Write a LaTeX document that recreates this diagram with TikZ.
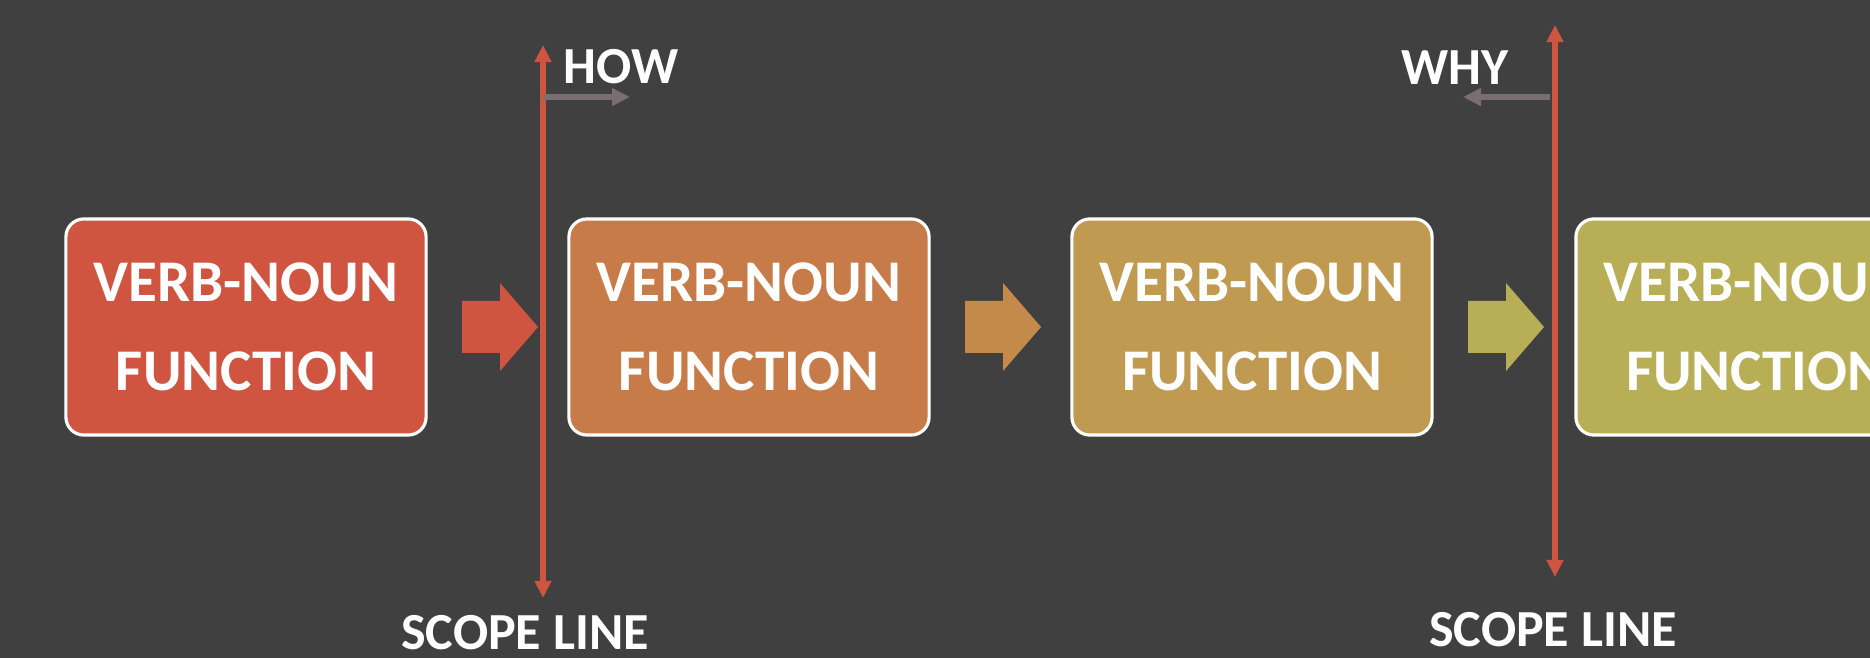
\documentclass[tikz,border=0pt]{standalone}
\usepackage{fontspec}
\setmainfont{Carlito}
\usetikzlibrary{arrows.meta}

\definecolor{bgdark}{HTML}{404040}
\definecolor{scopered}{HTML}{CE5540}
\definecolor{funcA}{HTML}{CF5541}
\definecolor{funcB}{HTML}{C77B48}
\definecolor{funcC}{HTML}{BF9A50}
\definecolor{funcD}{HTML}{B7AE55}
\definecolor{flowB}{HTML}{C38A4A}
\definecolor{dirgray}{HTML}{7A6E72}

\begin{document}
\begin{tikzpicture}[x=0.01cm,y=-0.01cm,
    func/.style={draw=white,line width=0.9pt,rounded corners=0.18cm,
        minimum width=3.6cm,minimum height=2.16cm,text=white,align=center,
        font=\fontsize{16.8}{25.3}\selectfont\bfseries},
    scopeline/.style={draw=scopered,line width=1.7pt,
        {Triangle[length=0.17cm,width=0.16cm]}-{Triangle[length=0.17cm,width=0.16cm]}},
    dirarrow/.style={draw=dirgray,line width=1.7pt,-{Triangle[length=0.18cm,width=0.17cm]}},
    captext/.style={text=white,font=\fontsize{14.8}{16}\selectfont\bfseries}]
    \fill[bgdark] (0,0) rectangle (1870,658);
    \useasboundingbox (0,0) rectangle (1870,658);
    \clip (0,0) rectangle (1870,658);

    % function boxes
    \node[func,fill=funcA] (fn1) at (246,327) {VERB-NOUN\\FUNCTION};
    \node[func,fill=funcB] (fn2) at (749,327) {VERB-NOUN\\FUNCTION};
    \node[func,fill=funcC] (fn3) at (1252,327) {VERB-NOUN\\FUNCTION};
    \node[func,fill=funcD] (fn4) at (1756,327) {VERB-NOUN\\FUNCTION};

    % block arrows between boxes
    \foreach \i/\c in {0/funcA,1/flowB,2/funcD} {
        \fill[\c,shift={(\i*503,0)}] (462,301) -- (500,301) -- (500,283) -- (538,327)
            -- (500,371) -- (500,353) -- (462,353) -- cycle;
    }

    % scope lines
    \coordinate (top1) at (543,45);
    \coordinate (bot1) at (543,598);
    \coordinate (top2) at (1555,25);
    \coordinate (bot2) at (1555,577);
    \draw[scopeline] (bot1) -- (top1);
    \draw[scopeline] (bot2) -- (top2);

    \coordinate (how0) at (543,97);
    \coordinate (how1) at (630,97);
    \coordinate (why0) at (1550,97);
    \coordinate (why1) at (1463,97);
    \draw[dirarrow] (how0) -- (how1);
    \draw[dirarrow] (why0) -- (why1);

    \node[captext] (how) at (621,67) {HOW};
    \node[captext] (why) at (1455,68) {WHY};
    \node[captext] (scope1) at (525,633) {SCOPE LINE};
    \node[captext] (scope2) at (1553,630) {SCOPE LINE};
\end{tikzpicture}
\end{document}
